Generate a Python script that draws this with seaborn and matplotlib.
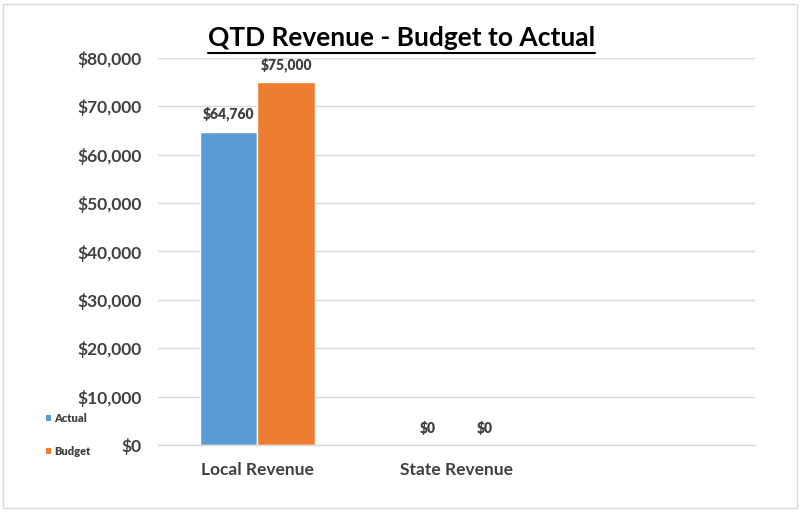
import matplotlib
matplotlib.use("Agg")
import matplotlib.pyplot as plt
import seaborn as sns
import pandas as pd
from matplotlib.patches import Rectangle, Patch
from matplotlib.lines import Line2D
from matplotlib.ticker import FuncFormatter, MultipleLocator

# Chart data
categories = ["Local Revenue", "State Revenue", ""]
series_names = ["Actual", "Budget"]
actual = [64760, 0, None]
budget = [75000, 0, None]
colors = ["#5B9BD5", "#ED7D31"]

rows = []
for cat, a, b in zip(categories, actual, budget):
    if a is not None:
        rows.append({"Category": cat, "Series": "Actual", "Value": a})
    if b is not None:
        rows.append({"Category": cat, "Series": "Budget", "Value": b})
df = pd.DataFrame(rows)

sns.set_theme(style="white")
plt.rcParams["font.family"] = ["Lato", "DejaVu Sans"]

fig = plt.figure(figsize=(8.03, 5.12), dpi=100)
ax = fig.add_axes([158 / 803, 1 - 445 / 512, (755 - 158) / 803, (445 - 58) / 512])

sns.barplot(data=df, x="Category", y="Value", hue="Series", order=categories,
            hue_order=series_names, palette=colors, width=0.575,
            saturation=1, ax=ax, legend=False, errorbar=None)

ax.set_xlim(-0.5, 2.5)
ax.set_ylim(0, 80000)
ax.yaxis.set_major_locator(MultipleLocator(10000))
ax.yaxis.set_major_formatter(FuncFormatter(lambda v, p: f"${v:,.0f}"))
ax.grid(axis="y", color="#d9d9d9", linewidth=1)
ax.set_axisbelow(True)
for side in ["top", "right", "left"]:
    ax.spines[side].set_visible(False)
ax.spines["bottom"].set_color("#d9d9d9")
ax.spines["bottom"].set_linewidth(1)
ax.set_xlabel("")
ax.set_ylabel("")
ax.tick_params(axis="both", length=0, labelsize=12.5, labelcolor="#404040")
ax.tick_params(axis="y", pad=12)
ax.tick_params(axis="x", pad=12)
for lbl in ax.get_xticklabels() + ax.get_yticklabels():
    lbl.set_fontweight("bold")

# Value labels above each bar
for container in ax.containers:
    ax.bar_label(container, labels=[f"${v:,.0f}" for v in container.datavalues],
                 padding=7.5, fontsize=10, fontweight="heavy", color="#404040")

# Legend on the left side
handles = [Patch(facecolor=c, edgecolor="none") for c in colors]
fig.legend(handles, series_names, loc="center left",
           bbox_to_anchor=(40 / 803, 1 - 435 / 512), frameon=False,
           prop={"size": 8, "weight": "heavy"}, labelcolor="#404040",
           handlelength=0.5, handleheight=0.5, handletextpad=0.3,
           labelspacing=2.0, borderpad=0)

# Title with underline
title = fig.text(0.5, 1 - 38 / 512, "QTD Revenue - Budget to Actual",
                 ha="center", va="center", fontsize=19, fontweight="bold",
                 color="black")
fig.canvas.draw()
bb = title.get_window_extent().transformed(fig.transFigure.inverted())
uy = 1 - 53 / 512
fig.add_artist(Line2D([bb.x0, bb.x1], [uy, uy], color="black", linewidth=1.5,
                      transform=fig.transFigure))

# Chart border
fig.add_artist(Rectangle((3 / 803, 4 / 512), 794 / 803, 504 / 512,
                         transform=fig.transFigure, fill=False,
                         edgecolor="#d9d9d9", linewidth=1))

fig.savefig("out.png", dpi=100)
